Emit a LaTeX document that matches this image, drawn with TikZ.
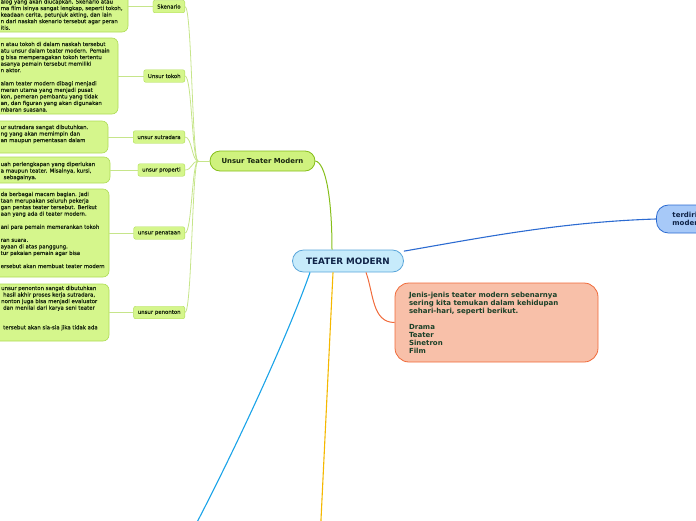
\documentclass[tikz,border=0pt]{standalone}
\usepackage{fontspec}
\setmainfont{DejaVu Sans}
\newfontfamily\notefont[FakeBold=0.5]{DejaVu Sans}
\definecolor{limefill}{HTML}{D5F68C}
\definecolor{limeline}{HTML}{AEDC55}
\definecolor{twigline}{HTML}{C6E58A}
\definecolor{branchgreen}{HTML}{86BE1A}
\definecolor{utmfill}{HTML}{CFF27E}
\definecolor{leaftext}{HTML}{18260F}
\definecolor{rootfill}{HTML}{C7EBFB}
\definecolor{rootline}{HTML}{5BA6DA}
\definecolor{roottext}{HTML}{0F2347}
\definecolor{salmonfill}{HTML}{F8C0A9}
\definecolor{salmonline}{HTML}{F06A3A}
\definecolor{jenistext}{HTML}{1A4028}
\definecolor{skyfill}{HTML}{A7C9F8}
\definecolor{skyline}{HTML}{2C6BD1}
\definecolor{cyanline}{HTML}{1AA3E8}
\definecolor{amberline}{HTML}{F5B800}
\begin{document}
\begin{tikzpicture}[x=1pt,y=-1pt,
    note/.style={draw=limeline,fill=limefill,rounded corners=6pt,line width=0.6pt},
    notetext/.style={anchor=north west,inner sep=0pt,align=left,text=leaftext,font=\notefont\fontsize{5.4}{6.55}\selectfont},
    leaf/.style={draw=limeline,fill=limefill,rounded corners=2pt,anchor=east,inner xsep=4.2pt,inner ysep=0pt,minimum height=12.5pt,text=leaftext,font=\notefont\fontsize{5.4}{6}\selectfont},
    twig/.style={draw=twigline,line width=0.8pt}]
  \useasboundingbox (0,0) rectangle (696,520);
  \clip (0,0) rectangle (696,520);
  % main topic and branches
  \node[draw=rootline,fill=rootfill,line width=0.8pt,rounded corners=11pt,minimum width=111pt,minimum height=22pt,text=roottext,font=\fontsize{8.8}{10}\selectfont\bfseries] (tm) at (348,261) {TEATER MODERN};
  \node[draw=branchgreen,fill=utmfill,line width=0.8pt,rounded corners=10pt,minimum width=105pt,minimum height=20pt,text=leaftext,font=\fontsize{6.9}{8}\selectfont\bfseries] (utm) at (262.5,161) {Unsur Teater Modern};
  \node[draw=salmonline,fill=salmonfill,line width=0.8pt,rounded corners=14pt,minimum width=203pt,minimum height=79pt,inner xsep=14pt,text width=175pt,align=left,text=jenistext,font=\fontsize{7}{8}\selectfont\bfseries] (jenis) at (496.5,322.5) {Jenis-jenis teater modern sebenarnya\\ sering kita temukan dalam kehidupan\\ sehari-hari, seperti berikut.\\ \mbox{}\\ Drama\\ Teater\\ Sinetron\\ Film};
  \node[draw=skyline,fill=skyfill,line width=0.8pt,rounded corners=12pt,anchor=west,minimum height=28pt,inner xsep=16pt,text width=60pt,align=left,text=roottext,font=\fontsize{7}{8.5}\selectfont\bfseries] (terdiri) at (656,219) {terdiri\\ moder};
  \coordinate (offBlue) at (193,530);
  \coordinate (offYellow) at (320.5,530);
  \draw[branchgreen,line width=1pt] (utm.east) .. controls (326,163) and (332,200) .. ([xshift=-16pt]tm.north);
  \draw[skyline,line width=1.1pt] (tm.10) .. controls (480,238) and (560,222) .. (terdiri.west);
  \draw[salmonline,line width=1pt] ([xshift=18pt]tm.south) to[out=-70,in=180] (jenis.west);
  \draw[cyanline,line width=1.1pt] ([xshift=-38pt]tm.south) .. controls (290,330) and (240,440) .. (offBlue);
  \draw[amberline,line width=1.1pt] ([xshift=-15pt]tm.south) -- (offYellow);
  % unsur leaves
  \node[leaf] (skenario) at (185,6.5) {Skenario};
  \node[leaf] (tokoh) at (185,76) {Unsur tokoh};
  \node[leaf] (sutradara) at (185,137) {unsur sutradara};
  \node[leaf] (properti) at (185,170) {unsur properti};
  \node[leaf] (penataan) at (185,233) {unsur penataan};
  \node[leaf] (penonton) at (185,312.5) {unsur penonton};
  \coordinate (hub) at (198,161);
  \draw[twig] (utm.west) -- (hub);
  \foreach \n in {skenario,tokoh,sutradara,properti,penataan,penonton}
    \draw[twig] (hub) .. controls +(-6,0) and +(7,0) .. (\n.east);
  % notes
  \node[note,minimum width=148pt,minimum height=51pt] (noteSkenario) at (54,6.5) {};
  \node[note,minimum width=138pt,minimum height=76pt] (noteTokoh) at (49,76) {};
  \node[note,minimum width=128pt,minimum height=32pt] (noteSutradara) at (44,137) {};
  \node[note,minimum width=130pt,minimum height=26pt] (noteProperti) at (45,170) {};
  \node[note,minimum width=129pt,minimum height=88pt] (notePenataan) at (44.5,233) {};
  \node[note,minimum width=129pt,minimum height=57pt] (notePenonton) at (44.5,312.5) {};
  \draw[twig] (noteSkenario.east) -- (skenario.west);
  \draw[twig] (noteTokoh.east) -- (tokoh.west);
  \draw[twig] (noteSutradara.east) -- (sutradara.west);
  \draw[twig] (noteProperti.east) -- (properti.west);
  \draw[twig] (notePenataan.east) -- (penataan.west);
  \draw[twig] (notePenonton.east) -- (penonton.west);
  \node[notetext] (skenarioText) at (0.5,-0.8) {alog yang akan diucapkan. Skenario atau\\ ma film isinya sangat lengkap, seperti tokoh,\\ keadaan cerita, petunjuk akting, dan lain\\ n dari naskah skenario tersebut agar peran\\ itis.};
  \node[notetext] (tokohText) at (0.5,41.7) {n atau tokoh di dalam naskah tersebut\\ atu unsur dalam teater modern. Pemain\\ g bisa memperagakan tokoh tertentu\\ asanya pemain tersebut memiliki\\ n aktor.\\ \mbox{}\\ alam teater modern dibagi menjadi\\ meran utama yang menjadi pusat\\ kon, pemeran pembantu yang tidak\\ an, dan figuran yang akan digunakan\\ mbaran suasana.};
  \node[notetext] (sutradaraText) at (0.5,124.7) {ur sutradara sangat dibutuhkan.\\ ng yang akan memimpin dan\\ an maupun pementasan dalam};
  \node[notetext] (propertiText) at (0.5,161.7) {uah perlengkapan yang diperlukan\\ a maupun teater. Misalnya, kursi,\\ \hspace*{3pt}sebagainya.};
  \node[notetext] (penataanText) at (0.5,191.7) {da berbagai macam bagian. Jadi\\ taan merupakan seluruh pekerja\\ gan pentas teater tersebut. Berikut\\ aan yang ada di teater modern.\\ \mbox{}\\ ani para pemain memerankan tokoh\\ \mbox{}\\ ran suara.\\ ayaan di atas panggung.\\ tur pakaian pemain agar bisa\\ \mbox{}\\ ersebut akan membuat teater modern};
  \node[notetext] (penontonText) at (1,285.7) {unsur penonton sangat dibutuhkan\\ \hspace*{2pt}hasil akhir proses kerja sutradara,\\ nonton juga bisa menjadi evaluator\\ \hspace*{2pt}dan menilai dari karya seni teater\\ \mbox{}\\ \mbox{}\\ \hspace*{2pt}tersebut akan sia-sia jika tidak ada};
\end{tikzpicture}
\end{document}
